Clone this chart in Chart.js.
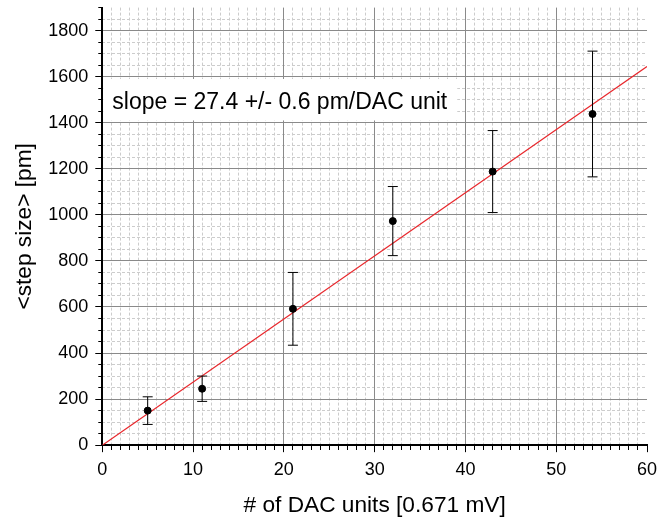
<!DOCTYPE html>
<html>
<head>
<meta charset="utf-8">
<script src="https://cdn.jsdelivr.net/npm/chart.js@4"></script>
<style>
  body { margin: 0; background: #fff; }
  #wrap { width: 672px; height: 519px; }
</style>
</head>
<body>
<div id="wrap"><canvas id="stepChart"></canvas></div>
<script>
// measured points: DAC step vs mean step size
const dacUnits = [5, 11, 21, 32, 43, 54];
const stepSizes = [150, 245, 592, 973, 1188, 1438];
const stepErrors = [60, 55, 158, 150, 178, 273];

// linear fit through origin
const fitX = [0, 60];
const fitY = [0, 1644];
const slopeText = 'slope = 27.4 +/- 0.6 pm/DAC unit';

const FONT = '"Liberation Sans", Arial, Helvetica, sans-serif';
const CLEAR = 'rgba(0,0,0,0)';

const points = dacUnits.map((x, i) => ({x: x, y: stepSizes[i]}));
const fitLine = fitX.map((x, i) => ({x: x, y: fitY[i]}));

// error bars: two ends per point, a null breaks the segment
const errorBars = [];
dacUnits.forEach((x, i) => {
    errorBars.push({x: x, y: stepSizes[i] - stepErrors[i]});
    errorBars.push({x: x, y: stepSizes[i] + stepErrors[i]});
    errorBars.push({x: x, y: null});
});

// white box with the slope text
const slopeLabel = {
    id: 'slopeLabel',
    beforeDatasetsDraw(chart) {
        const {ctx, scales: {x, y}} = chart;
        const left = x.getPixelForValue(0) + 1;
        const right = x.getPixelForValue(39.1);
        const top = y.getPixelForValue(1590);
        const bottom = y.getPixelForValue(1410);
        ctx.save();
        ctx.fillStyle = '#fff';
        ctx.fillRect(left, top, right - left, bottom - top);
        ctx.fillStyle = '#000';
        ctx.font = '23px ' + FONT;
        ctx.textBaseline = 'alphabetic';
        ctx.fillText(slopeText, left + 9, y.getPixelForValue(1460));
        ctx.restore();
    }
};

const isMajorX = v => v % 10 === 0;
const isMajorY = v => v % 200 === 0;

const ctx = document.getElementById('stepChart').getContext('2d');
const stepChart = new Chart(ctx, {
    type: 'scatter',
    data: {
        datasets: [{
            data: points,
            pointRadius: 3.5,
            backgroundColor: '#000',
            borderColor: '#000'
        }, {
            data: errorBars,
            showLine: true,
            spanGaps: false,
            borderColor: '#000',
            borderWidth: 1,
            pointStyle: 'line',
            pointRadius: 5,
            pointBorderColor: '#000',
            pointBorderWidth: 1
        }, {
            data: fitLine,
            showLine: true,
            borderColor: '#e8262b',
            borderWidth: 1.2,
            pointRadius: 0
        }]
    },
    options: {
        animation: false,
        responsive: true,
        maintainAspectRatio: false,
        devicePixelRatio: 1,
        layout: { padding: { top: 0, right: 25, left: 4 } },
        plugins: {
            legend: { display: false },
            tooltip: { enabled: false }
        },
        scales: {
            xMinor: {
                type: 'linear', axis: 'x', position: 'bottom',
                min: 0, max: 60,
                ticks: { display: false, stepSize: 1, autoSkip: false },
                grid: {
                    drawTicks: false,
                    color: c => (c.tick && !isMajorX(c.tick.value)) ? '#cccccc' : CLEAR
                },
                border: { display: false, dash: [3, 2] }
            },
            yMinor: {
                type: 'linear', axis: 'y', position: 'left',
                min: 0, max: 1900,
                ticks: { display: false, stepSize: 50, autoSkip: false },
                grid: {
                    drawTicks: false,
                    color: c => (c.tick && !isMajorY(c.tick.value) && c.tick.value < 1900) ? '#cccccc' : CLEAR
                },
                border: { display: false, dash: [3, 2] }
            },
            x: {
                type: 'linear', position: 'bottom',
                min: 0, max: 60,
                ticks: {
                    stepSize: 1, autoSkip: false, maxRotation: 0, minRotation: 0,
                    color: '#000', padding: 7,
                    font: { size: 18, family: FONT },
                    callback: v => isMajorX(v) ? String(v) : ''
                },
                grid: {
                    color: c => (c.tick && isMajorX(c.tick.value) && c.tick.value > 0 && c.tick.value < 60) ? '#8a8a8a' : CLEAR,
                    tickColor: '#000',
                    tickLength: 7,
                    tickBorderDash: c => (c.tick && isMajorX(c.tick.value)) ? [] : [4, 20]
                },
                border: { color: '#000', width: 2 },
                title: {
                    display: true, text: '# of DAC units [0.671 mV]', color: '#000',
                    font: { size: 22.7, family: FONT }, padding: { top: 4, bottom: 0 }
                }
            },
            y: {
                type: 'linear', position: 'left',
                min: 0, max: 1900,
                ticks: {
                    stepSize: 50, autoSkip: false,
                    color: '#000', padding: 7,
                    // unlabelled minor ticks get a tiny font so they add no padding
                    font: c => ({ size: (c.tick && isMajorY(c.tick.value)) ? 18 : 1, family: FONT }),
                    callback: v => isMajorY(v) ? String(v) : ''
                },
                grid: {
                    color: c => (c.tick && isMajorY(c.tick.value) && c.tick.value > 0) ? '#8a8a8a' : CLEAR,
                    tickColor: '#000',
                    tickLength: 7,
                    tickBorderDash: c => (c.tick && isMajorY(c.tick.value)) ? [] : [0, 3, 4, 20]
                },
                border: { color: '#000', width: 2 },
                title: {
                    display: true, text: '<step size> [pm]', color: '#000',
                    font: { size: 22.7, family: FONT }, padding: { top: 7, bottom: 3 }
                }
            }
        }
    },
    plugins: [slopeLabel]
});
</script>
</body>
</html>
